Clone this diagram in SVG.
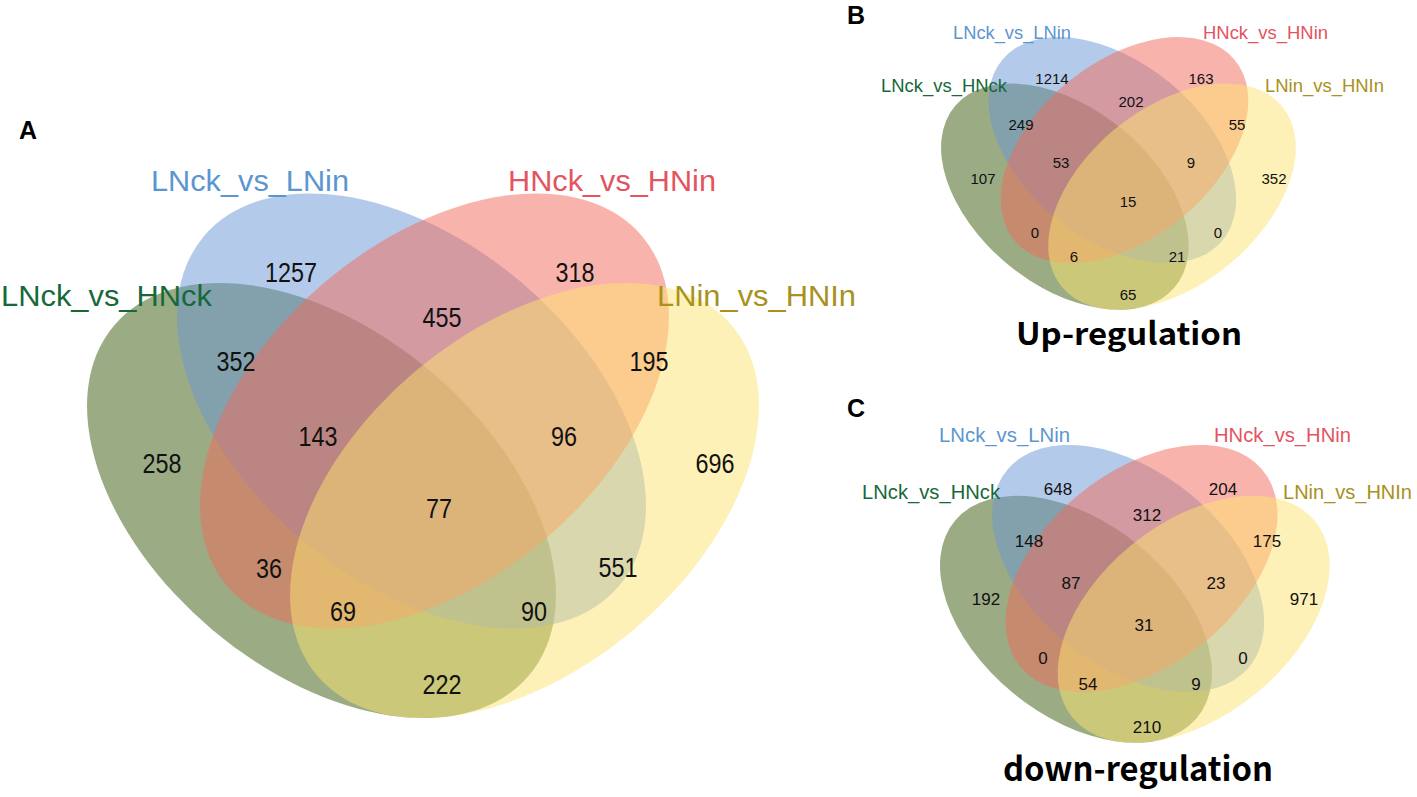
<svg xmlns="http://www.w3.org/2000/svg" width="1417" height="797" viewBox="0 0 1417 797">
<style>
.g{fill:#37590b;fill-opacity:.5}
.b{fill:#6995d5;fill-opacity:.5}
.r{fill:#f16959;fill-opacity:.5}
.y{fill:#fde36f;fill-opacity:.5}
text{font-family:"Liberation Sans",Arial,sans-serif}
.n{fill:#111;text-anchor:middle}
.nA{font-size:27px}
.nB{font-size:15px}
.nC{font-size:17px}
.lb{fill:#5b96cf}
.lr{fill:#e3545f}
.lg{fill:#17693a}
.ly{fill:#a8911c}
.LA{font-size:29px}
.LB{font-size:18.4px}
.LC{font-size:20.3px}
.panel{font-weight:bold;font-size:25px;fill:#000}
.cap{font-family:"Noto Sans CJK SC","Noto Sans",sans-serif;fill:#000;text-anchor:middle}
</style>
<rect width="1417" height="797" fill="#fff"/>

<!-- Panel A sets -->
<g id="panelA">
  <g id="A-LNck_vs_HNck"><ellipse class="g" cx="321.5" cy="500.5" rx="271.4" ry="169.2" transform="rotate(40.1 321.5 500.5)"/></g>
  <g id="A-LNck_vs_LNin"><ellipse class="b" cx="411.5" cy="411" rx="271.4" ry="169.2" transform="rotate(40.1 411.5 411)"/></g>
  <g id="A-HNck_vs_HNin"><ellipse class="r" cx="434.5" cy="411" rx="271.4" ry="169.2" transform="rotate(-40.1 434.5 411)"/></g>
  <g id="A-LNin_vs_HNIn"><ellipse class="y" cx="524.5" cy="500.5" rx="271.4" ry="169.2" transform="rotate(-40.1 524.5 500.5)"/></g>
</g>

<!-- Panel B sets -->
<g id="panelB" transform="matrix(0.528 0 0 0.52 895.1 -63.6)">
  <g id="B-LNck_vs_HNck"><ellipse class="g" cx="321.5" cy="500.5" rx="271.4" ry="169.2" transform="rotate(40.1 321.5 500.5)"/></g>
  <g id="B-LNck_vs_LNin"><ellipse class="b" cx="411.5" cy="411" rx="271.4" ry="169.2" transform="rotate(40.1 411.5 411)"/></g>
  <g id="B-HNck_vs_HNin"><ellipse class="r" cx="434.5" cy="411" rx="271.4" ry="169.2" transform="rotate(-40.1 434.5 411)"/></g>
  <g id="B-LNin_vs_HNIn"><ellipse class="y" cx="524.5" cy="500.5" rx="271.4" ry="169.2" transform="rotate(-40.1 524.5 500.5)"/></g>
</g>

<!-- Panel C sets -->
<g id="panelC" transform="matrix(0.58 0 0 0.568 889.5 335)">
  <g id="C-LNck_vs_HNck"><ellipse class="g" cx="321.5" cy="500.5" rx="271.4" ry="169.2" transform="rotate(40.1 321.5 500.5)"/></g>
  <g id="C-LNck_vs_LNin"><ellipse class="b" cx="411.5" cy="411" rx="271.4" ry="169.2" transform="rotate(40.1 411.5 411)"/></g>
  <g id="C-HNck_vs_HNin"><ellipse class="r" cx="434.5" cy="411" rx="271.4" ry="169.2" transform="rotate(-40.1 434.5 411)"/></g>
  <g id="C-LNin_vs_HNIn"><ellipse class="y" cx="524.5" cy="500.5" rx="271.4" ry="169.2" transform="rotate(-40.1 524.5 500.5)"/></g>
</g>

<g id="connectors"></g>

<!-- Set labels -->
<g id="labels" lengthAdjust="spacingAndGlyphs">
  <text class="lb LA" x="151" y="191" textLength="198" lengthAdjust="spacingAndGlyphs">LNck_vs_LNin</text>
  <text class="lr LA" x="508" y="191" textLength="208" lengthAdjust="spacingAndGlyphs">HNck_vs_HNin</text>
  <text class="lg LA" x="1" y="306" textLength="211" lengthAdjust="spacingAndGlyphs">LNck_vs_HNck</text>
  <text class="ly LA" x="657" y="306" textLength="199" lengthAdjust="spacingAndGlyphs">LNin_vs_HNIn</text>

  <text class="lb LB" x="953" y="39" textLength="118" lengthAdjust="spacingAndGlyphs">LNck_vs_LNin</text>
  <text class="lr LB" x="1203" y="39" textLength="125" lengthAdjust="spacingAndGlyphs">HNck_vs_HNin</text>
  <text class="lg LB" x="881" y="92" textLength="126" lengthAdjust="spacingAndGlyphs">LNck_vs_HNck</text>
  <text class="ly LB" x="1265" y="92" textLength="119" lengthAdjust="spacingAndGlyphs">LNin_vs_HNIn</text>

  <text class="lb LC" x="939" y="442" textLength="131" lengthAdjust="spacingAndGlyphs">LNck_vs_LNin</text>
  <text class="lr LC" x="1214" y="442" textLength="137" lengthAdjust="spacingAndGlyphs">HNck_vs_HNin</text>
  <text class="lg LC" x="862" y="499" textLength="138" lengthAdjust="spacingAndGlyphs">LNck_vs_HNck</text>
  <text class="ly LC" x="1283" y="499" textLength="129" lengthAdjust="spacingAndGlyphs">LNin_vs_HNIn</text>
</g>

<!-- Counts panel A -->
<g id="countsA" class="n nA">
  <text x="291" y="282" textLength="52" lengthAdjust="spacingAndGlyphs">1257</text>
  <text x="575" y="282" textLength="39" lengthAdjust="spacingAndGlyphs">318</text>
  <text x="442" y="327" textLength="39" lengthAdjust="spacingAndGlyphs">455</text>
  <text x="236" y="371" textLength="39" lengthAdjust="spacingAndGlyphs">352</text>
  <text x="649" y="371" textLength="39" lengthAdjust="spacingAndGlyphs">195</text>
  <text x="318" y="446" textLength="39" lengthAdjust="spacingAndGlyphs">143</text>
  <text x="564" y="446" textLength="26" lengthAdjust="spacingAndGlyphs">96</text>
  <text x="162" y="473" textLength="39" lengthAdjust="spacingAndGlyphs">258</text>
  <text x="715" y="473" textLength="39" lengthAdjust="spacingAndGlyphs">696</text>
  <text x="439" y="518" textLength="26" lengthAdjust="spacingAndGlyphs">77</text>
  <text x="269" y="578" textLength="26" lengthAdjust="spacingAndGlyphs">36</text>
  <text x="618" y="577" textLength="39" lengthAdjust="spacingAndGlyphs">551</text>
  <text x="343" y="621" textLength="26" lengthAdjust="spacingAndGlyphs">69</text>
  <text x="534" y="621" textLength="26" lengthAdjust="spacingAndGlyphs">90</text>
  <text x="442" y="694" textLength="39" lengthAdjust="spacingAndGlyphs">222</text>
</g>

<!-- Counts panel B -->
<g id="countsB" class="n nB">
  <text x="1052" y="84">1214</text>
  <text x="1201" y="84">163</text>
  <text x="1131" y="107">202</text>
  <text x="1021" y="130">249</text>
  <text x="1237" y="130">55</text>
  <text x="1061" y="168">53</text>
  <text x="1191" y="168">9</text>
  <text x="983" y="184">107</text>
  <text x="1274" y="184">352</text>
  <text x="1128" y="207">15</text>
  <text x="1035" y="238">0</text>
  <text x="1218" y="238">0</text>
  <text x="1074" y="262">6</text>
  <text x="1177" y="262">21</text>
  <text x="1128" y="300">65</text>
</g>

<!-- Counts panel C -->
<g id="countsC" class="n nC">
  <text x="1058" y="495">648</text>
  <text x="1223" y="495">204</text>
  <text x="1147" y="521">312</text>
  <text x="1029" y="547">148</text>
  <text x="1267" y="547">175</text>
  <text x="1071" y="589">87</text>
  <text x="1216" y="589">23</text>
  <text x="986" y="605">192</text>
  <text x="1304" y="605">971</text>
  <text x="1144" y="631">31</text>
  <text x="1043" y="664">0</text>
  <text x="1243" y="664">0</text>
  <text x="1088" y="690">54</text>
  <text x="1196" y="690">9</text>
  <text x="1147" y="733">210</text>
</g>

<!-- Panel letters and captions -->
<g id="titles">
  <text class="panel" x="19" y="139">A</text>
  <text class="panel" x="847" y="24">B</text>
  <text class="panel" x="847" y="417">C</text>
  <text class="cap" x="1129" y="345" font-size="31" font-weight="bold" textLength="226" lengthAdjust="spacingAndGlyphs">Up-regulation</text>
  <text class="cap" x="1138" y="781" font-size="33" font-weight="bold" textLength="270" lengthAdjust="spacingAndGlyphs">down-regulation</text>
</g>
</svg>
